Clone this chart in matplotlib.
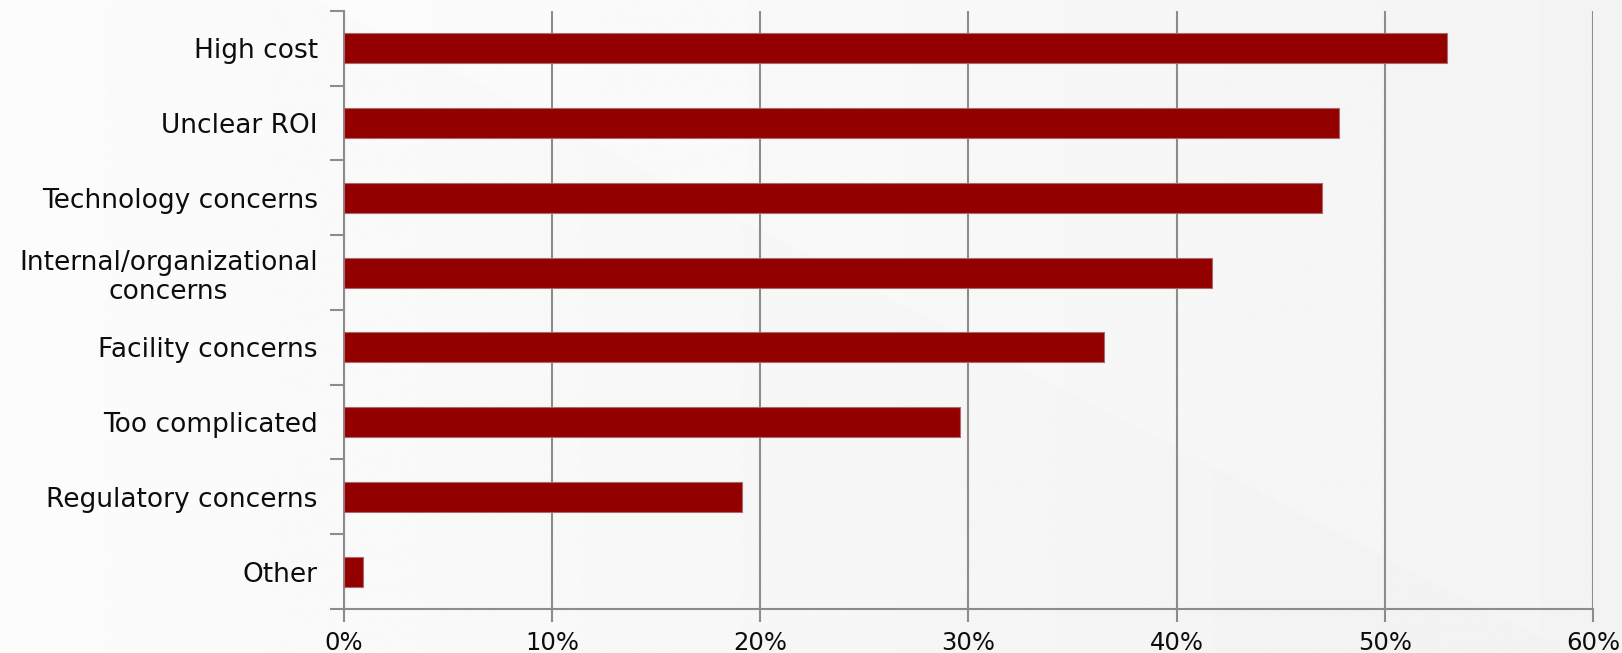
import numpy as np
import matplotlib
matplotlib.use("Agg")
import matplotlib.pyplot as plt
from matplotlib.ticker import FixedLocator, PercentFormatter

BAR   = "#930000"
EDGE  = "#a86a6a"
GRID  = "#8c8c8c"
TEXT  = "#0d0d0d"

categories = ["High cost", "Unclear ROI", "Technology concerns",
              "Internal/organizational\nconcerns", "Facility concerns",
              "Too complicated", "Regulatory concerns", "Other"]
values = [53.0, 47.8, 47.0, 41.7, 36.5, 29.6, 19.1, 0.9]
x_ticks = [0, 10, 20, 30, 40, 50, 60]

fig = plt.figure(figsize=(16.22, 6.53), dpi=100)

# soft background: light left-to-right gradient with a faint diagonal split
bg = fig.add_axes([0, 0, 1, 1], zorder=-10)
gx, gy = np.meshgrid(np.linspace(0, 1, 800), np.linspace(0, 1, 300))
shade = 0.995 - 0.04 * gx
shade = np.where(gy > 0.55 + (gx - 0.62) * 1.3, shade - 0.008, shade)
bg.imshow(shade, cmap="gray", vmin=0, vmax=1, aspect="auto",
          extent=[0, 1, 0, 1], origin="upper", interpolation="bilinear")
bg.axis("off")

ax = fig.add_axes([0.2121, 0.0674, 0.9821 - 0.2121, 0.9832 - 0.0674])
ax.patch.set_alpha(0)

y = np.arange(len(categories))
ax.barh(y, values, height=0.4, color=BAR, edgecolor=EDGE, linewidth=0.8, zorder=3)

ax.set_ylim(len(categories) - 0.5, -0.5)
ax.set_xlim(0, 60)

ax.set_yticks(y)
ax.set_yticklabels(categories, fontsize=19, color=TEXT)
for lab in ax.get_yticklabels():
    lab.set_multialignment("center")
    lab.set_linespacing(1.15)
ax.yaxis.set_minor_locator(FixedLocator(np.arange(-0.5, len(categories), 1)))
ax.tick_params(axis="y", which="major", length=0, pad=19)
ax.tick_params(axis="y", which="minor", length=10, width=1.5, color=GRID)

ax.set_xticks(x_ticks)
ax.xaxis.set_major_formatter(PercentFormatter(decimals=0))
ax.tick_params(axis="x", length=9, width=1.5, color=GRID, labelsize=17.5,
               labelcolor=TEXT, pad=7)

ax.grid(axis="x", color=GRID, linewidth=1.5, zorder=0)
for s in ["top", "right"]:
    ax.spines[s].set_visible(False)
for s in ["left", "bottom"]:
    ax.spines[s].set_color(GRID)
    ax.spines[s].set_linewidth(1.5)

fig.savefig("out.png", dpi=100)
